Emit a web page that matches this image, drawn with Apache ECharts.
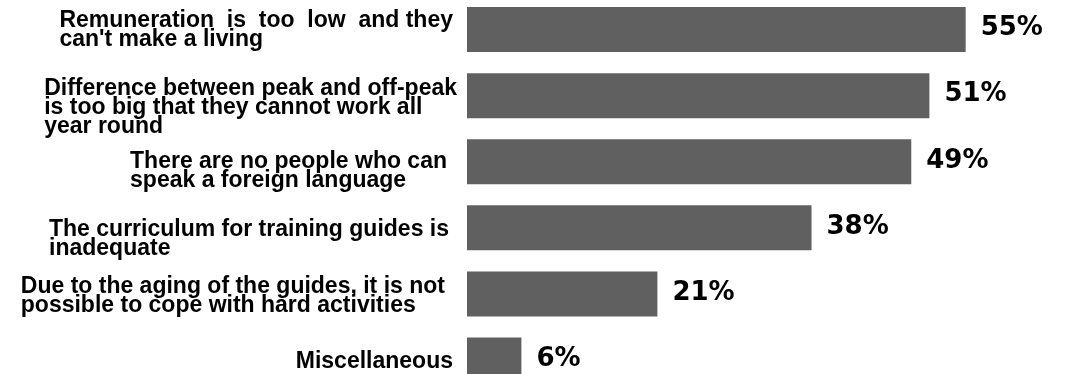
<!DOCTYPE html>
<html>
<head>
<meta charset="utf-8">
<script src="https://cdn.jsdelivr.net/npm/echarts@6/dist/echarts.min.js"></script>
<style>
html,body{margin:0;padding:0;background:#fff;}
#chart{width:1066px;height:374px;}
</style>
</head>
<body>
<div id="chart"></div>
<script>
const categories = [
  "Remuneration  is  too  low  and they\ncan't make a living",
  "Difference between peak and off-peak\nis too big that they cannot work all\nyear round",
  "There are no people who can\nspeak a foreign language",
  "The curriculum for training guides is\ninadequate",
  "Due to the aging of the guides, it is not\npossible to cope with hard activities",
  "Miscellaneous"
];
const values = [55, 51, 49, 38, 21, 6];

// label block padding [top, right, bottom, left] (layout only)
const labelPadding = [
  [2, 7, 0, 0],
  [24, 3, 0, 0],
  [18, 13, 0, 0],
  [22, 11, 0, 0],
  [4, 15, 0, 0],
  [4, 7, 0, 0]
];

const chart = echarts.init(document.getElementById('chart'), null, {renderer: 'canvas'});
chart.setOption({
  animation: false,
  backgroundColor: '#ffffff',
  grid: {left: 467, top: -3.5, width: 544, height: 396.6, containLabel: false, outerBoundsMode: 'none'},
  xAxis: {
    type: 'value', min: 0, max: 60, show: false
  },
  yAxis: {
    type: 'category',
    inverse: true,
    data: categories.map((c, i) => ({value: c, textStyle: {padding: labelPadding[i]}})),
    axisLine: {show: false},
    axisTick: {show: false},
    splitLine: {show: false},
    axisLabel: {
      margin: 7,
      interval: 0,
      formatter: v => '{t|' + v + '}',
      rich: {
        t: {
          align: 'left',
          fontFamily: '"Liberation Sans", Arial, sans-serif',
          fontWeight: 'bold',
          fontSize: 23,
          lineHeight: 19,
          color: '#000000'
        }
      }
    }
  },
  series: [{
    type: 'bar',
    data: values,
    barWidth: 45,
    itemStyle: {color: '#606060'},
    label: {
      show: true,
      position: 'right',
      distance: 15,
      formatter: '{c}%',
      fontFamily: '"DejaVu Sans", sans-serif',
      fontWeight: 'bold',
      fontSize: 26,
      color: '#000000',
      offset: [0, -1]
    }
  }]
});
</script>
</body>
</html>
